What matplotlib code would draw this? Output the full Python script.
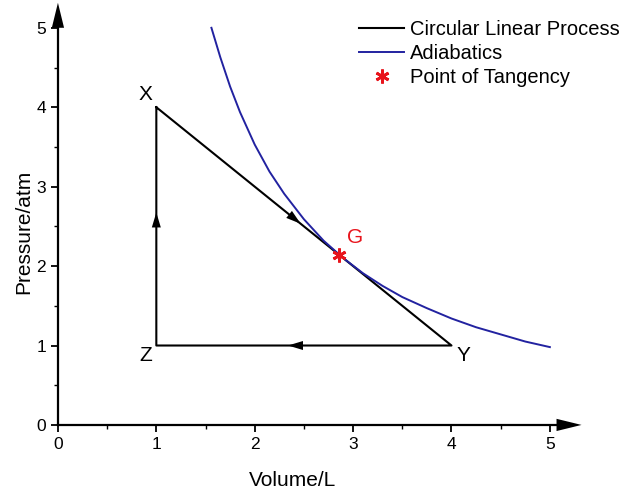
import matplotlib
matplotlib.use("Agg")
import matplotlib.pyplot as plt
from matplotlib.lines import Line2D

plt.rcParams['font.family'] = ['Liberation Sans', 'DejaVu Sans']

# triangle path X -> Y -> Z -> X
cycle_v = [1, 4, 1, 1]
cycle_p = [4, 1, 1, 4]

# adiabatic curve
adia_v = [1.56, 1.65, 1.75, 1.85, 2.0, 2.15, 2.3, 2.5, 2.7, 2.9, 3.1,
          3.3, 3.5, 3.75, 4.0, 4.25, 4.5, 4.75, 5.0]
adia_p = [5.00, 4.63, 4.26, 3.94, 3.53, 3.19, 2.91, 2.59, 2.32, 2.10, 1.91,
          1.75, 1.61, 1.47, 1.34, 1.23, 1.14, 1.05, 0.98]

tangent_v, tangent_p = 2.86, 2.14

RED = '#e8141c'
BLUE = '#2222a0'
star = (6, 2, 0)  # six-armed asterisk

fig = plt.figure(figsize=(6.23, 4.97), dpi=100)
ax = fig.add_axes([0.093, 0.145, 0.837, 0.847])

ax.plot(cycle_v, cycle_p, color='black', lw=1.5)
ax.plot(adia_v, adia_p, color=BLUE, lw=1.4)
ax.plot(tangent_v, tangent_p, marker=star, color=RED, ms=10, mew=2, ls='none')

# direction arrows on the triangle sides
arrow = dict(arrowstyle='-|>,head_length=0.6,head_width=0.18', color='black',
             lw=0, mutation_scale=18)
ax.annotate('', xy=(1, 2.71), xytext=(1, 2.4), arrowprops=arrow)
ax.annotate('', xy=(2.49, 2.51), xytext=(2.2, 2.8), arrowprops=arrow)
ax.annotate('', xy=(2.31, 1), xytext=(2.6, 1), arrowprops=arrow)

# point labels
ax.text(0.89, 4.16, 'X', fontsize=15, ha='center', va='center')
ax.text(4.12, 0.87, 'Y', fontsize=15, ha='center', va='center')
ax.text(0.89, 0.87, 'Z', fontsize=15, ha='center', va='center')
ax.text(3.02, 2.36, 'G', fontsize=15, ha='center', va='center', color=RED)

ax.set_xlim(0, 5.3)
ax.set_ylim(0, 5.3)
ax.set_xticks([0, 1, 2, 3, 4, 5])
ax.set_yticks([0, 1, 2, 3, 4, 5])
ax.set_xticks([0.5, 1.5, 2.5, 3.5, 4.5], minor=True)
ax.set_yticks([0.5, 1.5, 2.5, 3.5, 4.5], minor=True)
ax.tick_params(which='major', direction='out', length=5, width=1.3, labelsize=12.5)
ax.tick_params(which='minor', direction='out', length=3, width=1.0)

for s in ['top', 'right']:
    ax.spines[s].set_visible(False)
for s in ['left', 'bottom']:
    ax.spines[s].set_linewidth(1.6)
ax.spines['bottom'].set_bounds(0, 5.1)
ax.spines['left'].set_bounds(0, 5.1)

# axis arrowheads
axis_arrow = dict(arrowstyle='-|>,head_length=0.9,head_width=0.22', color='black',
                  lw=0, mutation_scale=20)
ax.annotate('', xy=(5.35, 0), xytext=(5.05, 0), arrowprops=axis_arrow,
            annotation_clip=False)
ax.annotate('', xy=(0, 5.35), xytext=(0, 5.05), arrowprops=axis_arrow,
            annotation_clip=False)

ax.set_xlabel('Volume/L', fontsize=15, labelpad=14, x=0.449)
ax.set_ylabel('Pressure/atm', fontsize=15, labelpad=2, y=0.458)

handles = [
    Line2D([], [], color='black', lw=1.5),
    Line2D([], [], color=BLUE, lw=1.4),
    Line2D([], [], marker=star, color=RED, ls='none', ms=10, mew=2),
]
labels = ['Circular Linear Process', 'Adiabatics', 'Point of Tangency']
fig.legend(handles, labels, loc='upper left', bbox_to_anchor=(0.577, 0.96),
           frameon=False, fontsize=14.5, handlelength=2.2, handletextpad=0.3,
           labelspacing=0.25, borderaxespad=0, borderpad=0)

fig.savefig('out.png', dpi=100)
